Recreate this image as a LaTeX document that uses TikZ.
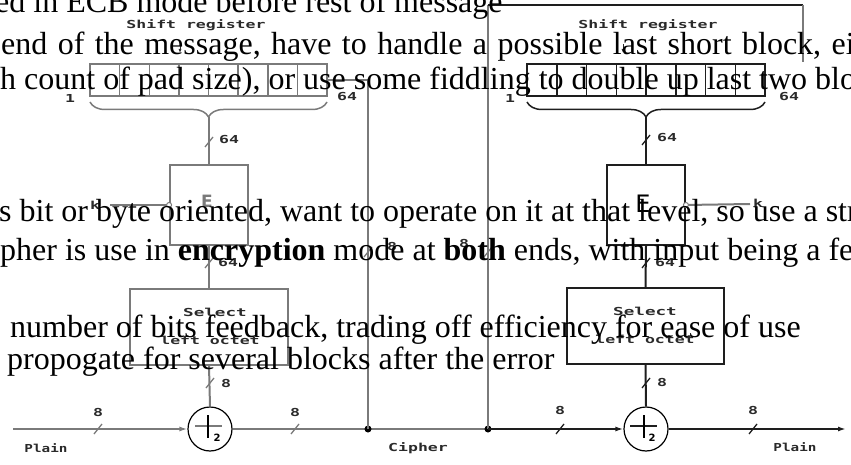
\documentclass[tikz,border=0pt]{standalone}
\usepackage{fontspec}
\usepackage{graphicx}
\setmainfont{Liberation Serif}
\newfontfamily\dfont{DejaVu Sans Mono}
\newfontfamily\efont{DejaVu Sans}
\usetikzlibrary{decorations.pathreplacing,arrows.meta}
\definecolor{wireL}{HTML}{7A7A7A}
\definecolor{wireR}{HTML}{1E1E1E}
\definecolor{labc}{HTML}{2A2A2A}
\newcommand\dlab[2][1.5]{\scalebox{#1}[1]{\dfont\bfseries #2}}
\begin{document}
\begin{tikzpicture}[x=1pt,y=-1pt,
  wire/.style={line width=2pt},
  box/.style={draw,rectangle,inner sep=0pt,line width=1.8pt},
  dlabel/.style={font=\fontsize{11}{12}\selectfont, text=labc, inner sep=0pt},
  txt/.style={anchor=base west,inner sep=0pt,font=\fontsize{32}{38}\selectfont},
  arr/.style={-{Latex[length=8pt,width=5pt]}},
  bracestyle/.style={line width=1.5pt, decorate, decoration={brace, mirror, amplitude=15pt}},
  xorstyle/.style={circle, draw=black, line width=1.2pt, minimum size=44pt, inner sep=0pt},
  slash/.style={line width=1.3pt},
]
\useasboundingbox (0,0) rectangle (851,465);
\begin{scope}
\clip (0,0) rectangle (851,465);

% ================= LEFT (encryption) =================
\node[dlabel] (shL) at (196,25) {\dlab{Shift register}};
\draw[labc, line width=1pt, -{Latex[length=4pt,width=3pt]}] (180,44) -- (180,53);
\node[box, draw=wireL, minimum width=237pt, minimum height=32pt] (regL) at (208.5,80) {};
\foreach \i in {1,...,7} \draw[wireL, line width=1.5pt] (90+\i*29.625,64) -- (90+\i*29.625,96);
\node[dlabel] (oneL) at (70,98) {\dlab{1}};
\node[dlabel] (sfL) at (347,97) {\dlab{64}};
\coordinate (brL1) at (90,102);
\coordinate (brL2) at (327,102);
\draw[wireL, bracestyle] (brL1) -- (brL2);
\coordinate (tipL) at (209,117);

\node[box, draw=wireL, minimum width=78pt, minimum height=80pt] (EL) at (209,205) {};
\node[font=\fontsize{17}{18}\selectfont\efont\bfseries, text=wireL, inner sep=0pt] (ElabL) at (207,201) {E};
\draw[wireL, wire] (tipL) -- (EL.north);
\draw[wireL, slash] (205,147) -- (213,137);
\node[dlabel] (b64aL) at (229,140) {\dlab{64}};

\coordinate (kL) at (110,205);
\draw[wireL, wire] (kL) -- (EL.west);
\draw[wireL, fill=white, line width=1pt] (EL.west) circle (2.5pt);
\node[dlabel] (klabL) at (95,205) {\dlab{k}};

\node[box, draw=wireL, minimum width=158pt, minimum height=76pt] (selL) at (209,327) {};
\node[dlabel] (selaL) at (215,312) {\dlab[1.6]{Select}};
\node[dlabel] (selbL) at (210,340) {\dlab{left octet}};
\draw[wireL, wire] (EL.south) -- (selL.north);
\draw[wireL, slash] (205,268) -- (213,258);
\node[dlabel] (b64bL) at (228,263) {\dlab{64}};

\node[xorstyle] (xorL) at (210,429) {};
\draw[wireL, line width=2.5pt] (195,426) -- (222,426);
\draw[black, line width=1.3pt] (208,415) -- (208,438);
\node[font=\fontsize{10}{10}\selectfont\efont\bfseries, inner sep=0pt] (twoL) at (217,438) {2};
\draw[wireL, wire] (selL.south) -- (xorL.north);
\draw[wireL, slash] (206,388) -- (214,378);
\node[dlabel] (b8aL) at (226,383) {\dlab{8}};

\coordinate (plainIn) at (13,429);
\draw[wireL, wire, arr] (plainIn) -- (xorL.west);
\draw[wireL, slash] (94,434) -- (102,424);
\node[dlabel] (b8bL) at (98,412) {\dlab{8}};
\node[dlabel] (plainL) at (46,448) {\dlab[1.3]{Plain}};

\coordinate (jL) at (368,429);
\coordinate (jR) at (488,429);
\draw[wireL, wire] (xorL.east) -- (jL) -- (jR);
\draw[wireL, slash] (291,434) -- (299,424);
\node[dlabel] (b8cL) at (295,412) {\dlab{8}};
\node[dlabel] (cipher) at (418,448) {\dlab{Cipher}};
\fill[black] (jL) circle (3.5pt);
\fill[black] (jR) circle (3.5pt);

% feedback left
\coordinate (fbL) at (368,80);
\draw[wireL, wire] (jL) -- (fbL) -- (regL.east);
\draw[wireL, slash] (364,257) -- (372,247);
\node[dlabel] (b8fL) at (392,246) {\dlab{8}};

% ================= RIGHT (decryption) =================
\coordinate (fbR1) at (488,5);
\coordinate (fbR2) at (803,5);
\coordinate (fbR3) at (803,62);
\draw[wireL, wire] (jR) -- (fbR1);
\draw[wireR, wire] (fbR1) -- (fbR2);
\draw[wireL, wire] (fbR2) -- (fbR3);
\draw[wireL, slash] (484,257) -- (492,247);
\node[dlabel] (b8fR) at (464,243) {\dlab{8}};

\node[dlabel] (shR) at (648,25) {\dlab{Shift register}};
\draw[labc, line width=1pt, -{Latex[length=4pt,width=3pt]}] (623,44) -- (623,53);
\node[box, draw=wireR, minimum width=238pt, minimum height=32pt] (regR) at (646,80) {};
\foreach \i in {1,...,7} \draw[wireR, line width=1.5pt] (527+\i*29.75,64) -- (527+\i*29.75,96);
\node[dlabel] (oneR) at (510,98) {\dlab{1}};
\node[dlabel] (sfR) at (789,97) {\dlab{64}};
\coordinate (brR1) at (527,102);
\coordinate (brR2) at (765,102);
\draw[wireR, bracestyle] (brR1) -- (brR2);
\coordinate (tipR) at (646,117);

\node[box, draw=wireR, minimum width=78pt, minimum height=80pt] (ER) at (646,205) {};
\node[font=\fontsize{24}{24}\selectfont\efont, inner sep=0pt] (ElabR) at (643,204) {E};
\draw[wireR, wire] (tipR) -- (ER.north);
\draw[wireR, slash] (642,145) -- (650,135);
\node[dlabel] (b64aR) at (667,138) {\dlab{64}};

\coordinate (kR) at (750,204);
\draw[wireL, wire] (ER.east) -- (kR);
\draw[wireL, fill=white, line width=1pt] (ER.east) circle (2.5pt);
\node[dlabel] (klabR) at (758,203) {\dlab{k}};

\node[box, draw=wireR, minimum width=157pt, minimum height=76pt] (selR) at (645.5,326) {};
\node[dlabel] (selaR) at (645,311) {\dlab[1.6]{Select}};
\node[dlabel] (selbR) at (645,339) {\dlab{left octet}};
\draw[wireR, wire] (ER.south) -- (selR.north);
\draw[wireR, slash] (642,268) -- (650,258);
\node[dlabel] (b64bR) at (665,263) {\dlab{64}};

\node[xorstyle] (xorR) at (646,429) {};
\draw[wireR, line width=1.6pt] (630,426) -- (657,426);
\draw[black, line width=1.6pt] (644,415) -- (644,438);
\node[font=\fontsize{10}{10}\selectfont\efont\bfseries, inner sep=0pt] (twoR) at (652,438) {2};
\draw[wireR, wire] (selR.south) -- (xorR.north);
\draw[wireR, slash] (642,388) -- (650,378);
\node[dlabel] (b8aR) at (662,382) {\dlab{8}};

\draw[wireR, wire, arr] (jR) -- (xorR.west);
\draw[wireR, slash] (556,434) -- (564,424);
\node[dlabel] (b8bR) at (560,410) {\dlab{8}};
\coordinate (plainOut) at (846,429);
\draw[wireR, wire, arr] (xorR.east) -- (plainOut);
\draw[wireR, slash] (749,434) -- (757,424);
\node[dlabel] (b8cR) at (753,410) {\dlab{8}};
\node[dlabel] (plainR) at (795,447) {\dlab[1.3]{Plain}};

% ================= overlay text =================
\node[txt] (t1) at (-5,13) {ed in ECB mode before rest of message};
\node[txt] (t2) at (1,55) {\spaceskip=10.4pt end of the message, have to handle a possible last short block, ei};
\node[txt] (t3) at (0,90) {h count of pad size), or use some fiddling to double up last two blo};
\node[txt] (t4) at (-1,222) {s bit or byte oriented, want to operate on it at that level, so use a str};
\node[txt] (t5) at (0,260) {pher is use in \textbf{encryption} mode at \textbf{both} ends, with input being a fe};
\node[txt] (t6) at (10,337) {number of bits feedback, trading off efficiency for ease of use};
\node[txt] (t7) at (7,369) {propogate for several blocks after the error};
\end{scope}
\end{tikzpicture}
\end{document}
